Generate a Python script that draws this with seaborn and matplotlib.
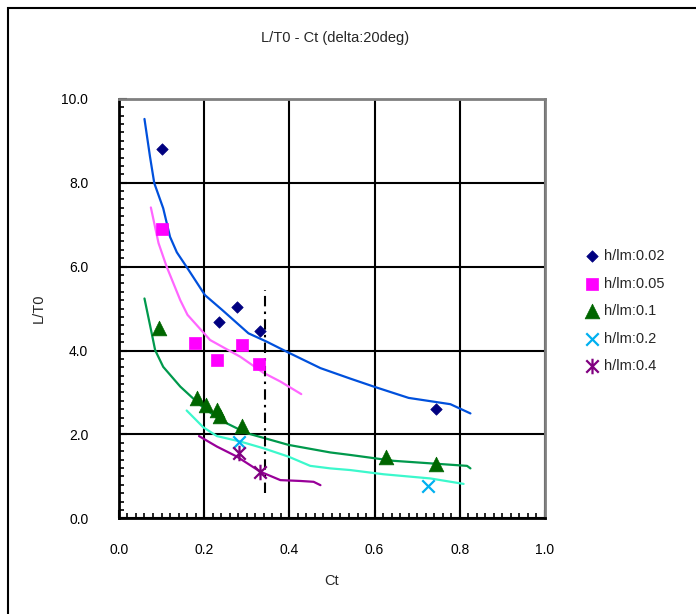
import numpy as np
import pandas as pd
import matplotlib
matplotlib.use("Agg")
import matplotlib.pyplot as plt
import seaborn as sns
from matplotlib.path import Path
from matplotlib.patches import Rectangle
from matplotlib.ticker import MultipleLocator, FormatStrFormatter

# ---------------- data ----------------
title = "L/T0 - Ct (delta:20deg)"
xlabel = "Ct"
ylabel = "L/T0"
series_labels = ["h/lm:0.02", "h/lm:0.05", "h/lm:0.1", "h/lm:0.2", "h/lm:0.4"]

# measured points
pts_002_ct = [0.100, 0.234, 0.278, 0.332, 0.745]
pts_002_lt = [8.80, 4.67, 5.03, 4.47, 2.61]
pts_005_ct = [0.101, 0.179, 0.230, 0.288, 0.329]
pts_005_lt = [6.89, 4.19, 3.77, 4.13, 3.68]
pts_01_ct = [0.095, 0.183, 0.205, 0.230, 0.238, 0.289, 0.626, 0.745]
pts_01_lt = [4.53, 2.86, 2.71, 2.58, 2.44, 2.21, 1.45, 1.29]
pts_02_ct = [0.283, 0.725]
pts_02_lt = [1.83, 0.78]
pts_04_ct = [0.283, 0.332]
pts_04_lt = [1.55, 1.11]

# fitted curves
cur_002_ct = [0.060, 0.073, 0.083, 0.104, 0.120, 0.136, 0.161, 0.202, 0.242, 0.304,
              0.347, 0.398, 0.473, 0.543, 0.598, 0.680, 0.778, 0.825]
cur_002_lt = [9.52, 8.62, 7.99, 7.39, 6.71, 6.34, 5.96, 5.32, 4.97, 4.41,
              4.21, 3.95, 3.58, 3.33, 3.14, 2.87, 2.72, 2.50]
cur_005_ct = [0.075, 0.093, 0.112, 0.144, 0.161, 0.214, 0.285, 0.339, 0.379, 0.428]
cur_005_lt = [7.41, 6.56, 6.00, 5.20, 4.85, 4.25, 3.85, 3.47, 3.26, 2.96]
cur_01_ct = [0.060, 0.077, 0.085, 0.104, 0.144, 0.191, 0.238, 0.300, 0.398, 0.496,
             0.543, 0.645, 0.731, 0.817, 0.825]
cur_01_lt = [5.24, 4.41, 4.01, 3.61, 3.14, 2.70, 2.34, 2.03, 1.75, 1.57,
             1.51, 1.37, 1.31, 1.25, 1.19]
cur_02_ct = [0.159, 0.198, 0.230, 0.285, 0.339, 0.398, 0.449, 0.496, 0.543, 0.621,
             0.731, 0.809]
cur_02_lt = [2.57, 2.17, 1.96, 1.83, 1.67, 1.47, 1.25, 1.19, 1.15, 1.05,
             0.95, 0.82]
cur_04_ct = [0.188, 0.230, 0.277, 0.332, 0.379, 0.426, 0.457, 0.473]
cur_04_lt = [1.96, 1.71, 1.47, 1.11, 0.91, 0.89, 0.87, 0.79]

# vertical reference line
ref_ct = [0.343, 0.343]
ref_lt = [0.60, 5.45]

x_ticks = [0.0, 0.2, 0.4, 0.6, 0.8, 1.0]
y_ticks = [0.0, 2.0, 4.0, 6.0, 8.0, 10.0]

# ---------------- style ----------------
sns.set_style("white")
plt.rcParams["font.family"] = ["Liberation Sans", "DejaVu Sans"]

line_colors = ["#0050dc", "#ff66ff", "#00994c", "#3cf8cc", "#990099"]
mark_colors = ["#000080", "#ff00ff", "#006600", "#00b0f0", "#800080"]

star_path = Path([(-1, -1), (1, 1), (-1, 1), (1, -1), (0, -1.25), (0, 1.25)],
                 [Path.MOVETO, Path.LINETO, Path.MOVETO, Path.LINETO, Path.MOVETO, Path.LINETO])

fig = plt.figure(figsize=(6.96, 6.14), dpi=100)
ax = fig.add_axes([118.9 / 696, 1 - 518.3 / 614, (545.0 - 118.9) / 696, (518.3 - 98.8) / 614])

curves = [(cur_002_ct, cur_002_lt), (cur_005_ct, cur_005_lt), (cur_01_ct, cur_01_lt),
          (cur_02_ct, cur_02_lt), (cur_04_ct, cur_04_lt)]
points = [(pts_002_ct, pts_002_lt), (pts_005_ct, pts_005_lt), (pts_01_ct, pts_01_lt),
          (pts_02_ct, pts_02_lt), (pts_04_ct, pts_04_lt)]

for (cx, cy), col in zip(curves, line_colors):
    sns.lineplot(x=cx, y=cy, sort=False, estimator=None, color=col, linewidth=1.6, ax=ax, zorder=3)

sns.lineplot(x=ref_ct, y=ref_lt, sort=False, estimator=None, color="black", linewidth=1.5,
             linestyle=(0, (5, 2.5, 1.2, 2.5)), ax=ax, zorder=3)

marker_specs = [
    dict(marker="D", s=34, linewidth=0.5),
    dict(marker="s", s=82, linewidth=0.5),
    dict(marker="^", s=112, linewidth=0.5),
    dict(marker="x", s=80, linewidth=1.6),
    dict(marker=star_path, s=125, linewidth=1.6),
]
for (px, py), col, lab, spec in zip(points, mark_colors, series_labels, marker_specs):
    sns.scatterplot(x=px, y=py, color=col, edgecolor=col, label=lab, ax=ax, zorder=4, **spec)

ax.set_xlim(0, 1.0)
ax.set_ylim(0, 10.0)
ax.set_xticks(x_ticks)
ax.set_yticks(y_ticks)
ax.xaxis.set_major_formatter(FormatStrFormatter("%.1f"))
ax.yaxis.set_major_formatter(FormatStrFormatter("%.1f"))
ax.xaxis.set_minor_locator(MultipleLocator(0.02))
ax.yaxis.set_minor_locator(MultipleLocator(0.2))
ax.tick_params(axis="both", which="both", bottom=True, left=True, top=False, right=False)
ax.tick_params(axis="both", which="major", direction="in", length=6, width=1.5,
               labelsize=10, colors="black")
ax.tick_params(axis="x", which="major", pad=18)
ax.tick_params(axis="y", which="major", pad=22)
ax.tick_params(axis="both", which="minor", direction="in", length=3.5, width=1.2, color="black")

ax.grid(True, which="major", color="black", linewidth=1.5)
ax.set_axisbelow(True)
for side in ["left", "bottom"]:
    ax.spines[side].set_color("black")
    ax.spines[side].set_linewidth(2.0)
for side in ["top", "right"]:
    ax.spines[side].set_color("#808080")
    ax.spines[side].set_linewidth(2.0)
    ax.spines[side].set_visible(True)

ax.set_xlabel(xlabel, fontsize=10.5, labelpad=12)
ax.set_ylabel(ylabel, fontsize=10.5, labelpad=11)
fig.text(335 / 696, 1 - 38 / 614, title, ha="center", va="center", fontsize=10.5)

leg = ax.legend(loc="upper left", bbox_to_anchor=(585 / 696, 1 - 249 / 614),
                bbox_transform=fig.transFigure, frameon=False, fontsize=10.5,
                handlelength=1.0, handletextpad=0.3, labelspacing=0.93,
                borderpad=0, borderaxespad=0, markerscale=1.0)

# outer chart frame
fig.add_artist(Rectangle((8 / 696, -0.2), 1.2, 1.2 - 8 / 614, transform=fig.transFigure,
                         fill=False, edgecolor="black", linewidth=1.5))

fig.savefig("out.png", dpi=100)
